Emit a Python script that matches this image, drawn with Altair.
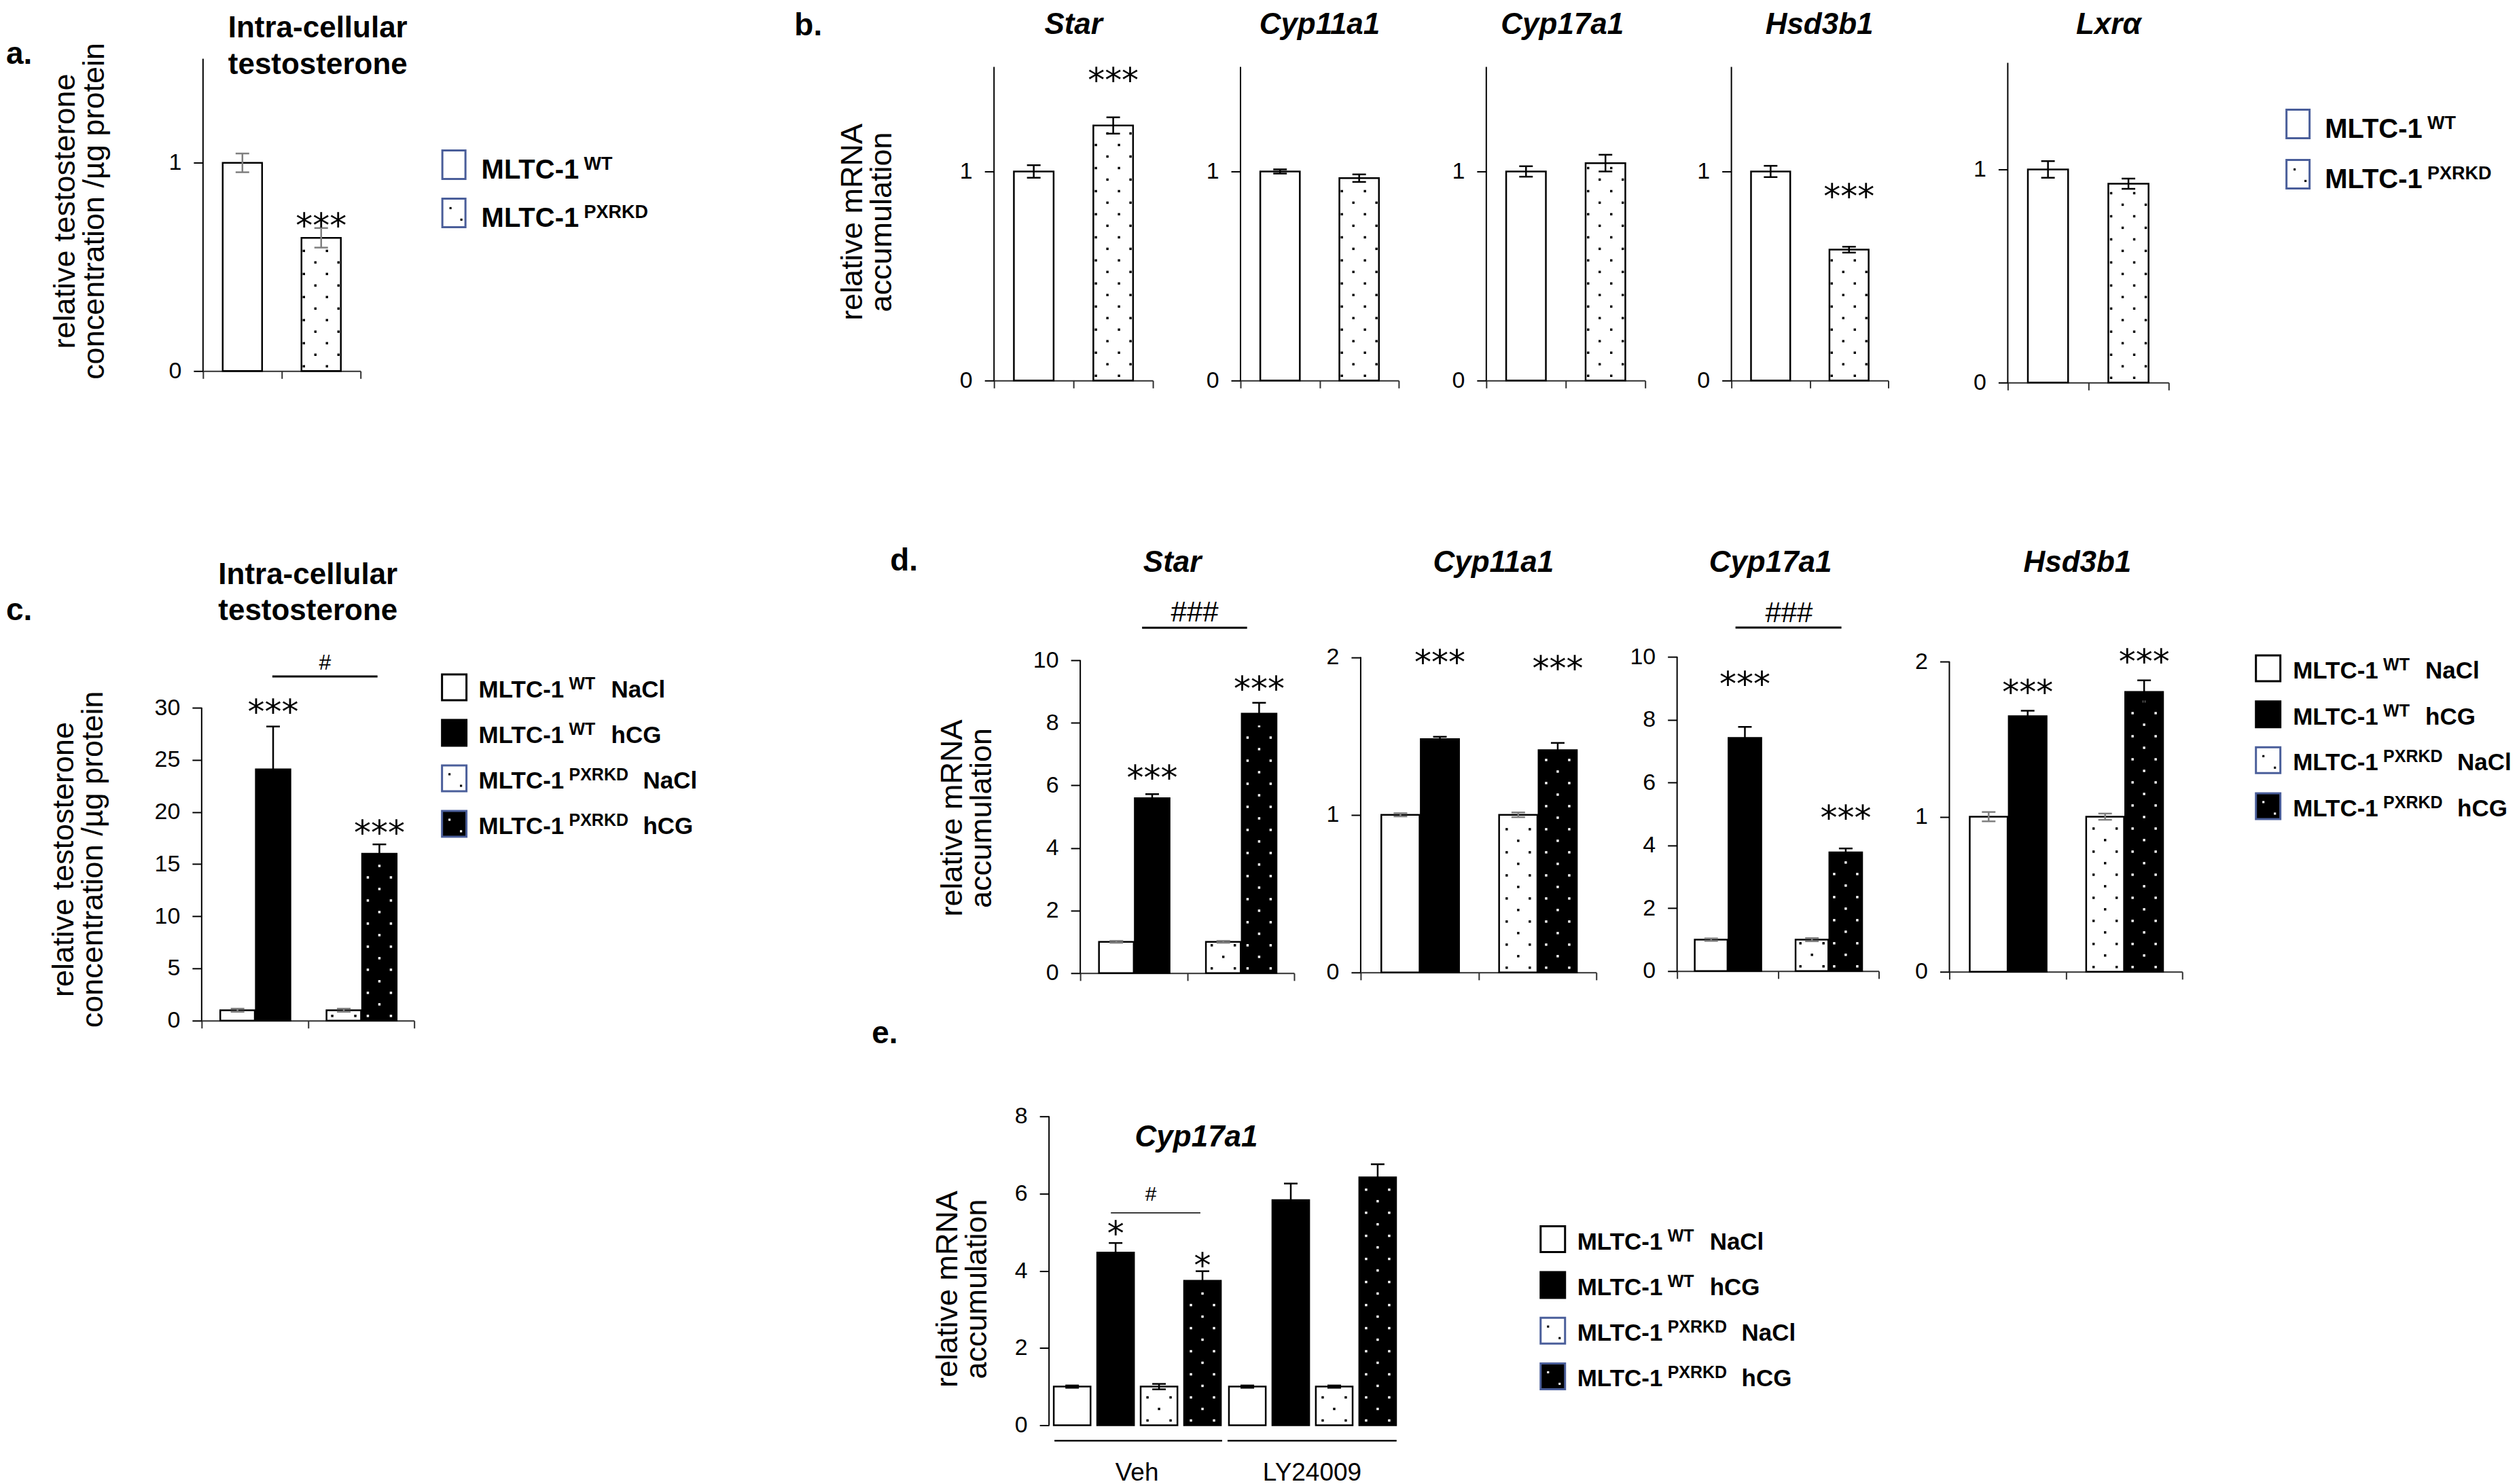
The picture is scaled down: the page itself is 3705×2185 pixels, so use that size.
import altair as alt
import pandas as pd

FONT = "Liberation Sans"
SYM_FONT = "DejaVu Sans"
BLUE = "#4a5e9a"
GRAY = "#7f7f7f"
AXC = "#303030"

# ======================= data =======================
# a. intra-cellular testosterone, WT vs PXR knock-down
a_mean = [1.00, 0.64]
a_err = [0.045, 0.047]
a_star_y = 0.734

# b. relative mRNA, WT vs PXR knock-down
b_genes = ["Star", "Cyp11a1", "Cyp17a1", "Hsd3b1", "Lxrα"]
b_wt_mean = [1.00, 1.00, 1.00, 1.00, 1.00]
b_wt_err = [0.030, 0.010, 0.025, 0.027, 0.039]
b_kd_mean = [1.22, 0.968, 1.04, 0.626, 0.933]
b_kd_err = [0.039, 0.018, 0.040, 0.014, 0.024]
b_stars = ["***", "", "", "***", ""]
b_stars_y = [1.474, 0.0, 0.0, 0.916, 0.0]

# c. intra-cellular testosterone, NaCl / hCG
c_mean = [1.0, 24.1, 1.0, 16.0]
c_err = [0.15, 4.1, 0.15, 0.9]
c_stars_y = [30.3, 18.74]          # over WT hCG, PXRKD hCG
c_hash = [0.665, 1.655, 33.0, 1.16, 34.42]   # line x0, x1, y, label x, label y

# d. relative mRNA, NaCl / hCG
d_genes = ["Star", "Cyp11a1", "Cyp17a1", "Hsd3b1"]
d_star_mean = [1.0, 5.59, 1.0, 8.29]
d_star_err = [0.03, 0.13, 0.03, 0.35]
d_cyp11_mean = [1.0, 1.48, 1.0, 1.41]
d_cyp11_err = [0.01, 0.015, 0.015, 0.046]
d_cyp17_mean = [1.0, 7.42, 1.0, 3.78]
d_cyp17_err = [0.04, 0.35, 0.05, 0.12]
d_hsd_mean = [1.0, 1.648, 1.0, 1.804]
d_hsd_err = [0.03, 0.035, 0.02, 0.075]
d_stars_y = [[6.49, 9.33], [2.015, 1.976], [9.37, 5.12], [1.851, 2.048]]
d_star_hash = [0.578, 1.56, 11.04, 1.07, 11.56]
d_cyp17_hash = [0.579, 1.63, 10.93, 1.11, 11.43]

# e. Cyp17a1, vehicle vs LY24009
e_treat = ["Veh", "LY24009"]
e_mean = [1.0, 4.47, 1.0, 3.74, 1.0, 5.83, 1.0, 6.42]
e_err = [0.03, 0.25, 0.07, 0.25, 0.03, 0.43, 0.03, 0.34]
e_stars_y = [5.17, 4.33]
e_hash = [0.353, 0.864, 5.50, 0.581, 6.0]

# legend texts
leg2_main = ["MLTC-1", "MLTC-1"]
leg2_sup = ["WT", "PXRKD"]
leg4_main = ["MLTC-1", "MLTC-1", "MLTC-1", "MLTC-1"]
leg4_sup = ["WT", "WT", "PXRKD", "PXRKD"]
leg4_suf = ["NaCl", "hCG", "NaCl", "hCG"]

YT_TESTO = ["relative testosterone", "concentration /µg protein"]
YT_MRNA = ["relative mRNA", "accumulation"]

# ======================= layout / style =======================
T1, T2, T3 = 86, 870, 1644
X2 = [0.25, 1.25]
BW2 = 0.5
X4 = [0.175, 0.51, 1.175, 1.51]
BW4 = 0.325
X8 = [0.027, 0.275, 0.523, 0.771, 1.027, 1.275, 1.523, 1.771]
BW8 = 0.21

FILL4 = ["white", "black", "white", "black"]
ECOL4 = [GRAY, "black", GRAY, "black"]
DOT4 = [False, False, True, True]
DCOL4 = ["black", "black", "black", "white"]


def dots_for(x0, x1, top, ppx, ppy, col, step=17.0):
    wpx = (x1 - x0) * ppx
    hpx = top * ppy
    ncol = int((wpx - 6) // step) + 1
    margin = (wpx - step * (ncol - 1)) / 2
    out = []
    r = 0
    while True:
        ypx = 7 + r * step
        if ypx > hpx - 5:
            break
        for k in range(ncol):
            if (k + r) % 2 == 0:
                out.append({"dx": x0 + (margin + k * step) / ppx, "dy": ypx / ppy, "dcol": col})
        r += 1
    return out


def bar_panel(means, errs, fills, ecols, dotted, dotcols, x0s, bw, width, bottom, axis_top,
              axis_max, row_top, yticks, nslots=2, stars=(), star_size=50, brackets=(),
              ytitle=None, ytitle_x=0, ytitle_y=0, title=None, xlabels=None, group_lines=()):
    height = bottom - row_top
    ppy = (bottom - axis_top) / axis_max
    ytop = height / ppy
    ppx = width / nslots
    xs = alt.Scale(domain=[0, nslots], nice=False, zero=False)
    ys = alt.Scale(domain=[0, ytop], nice=False, zero=False)

    df = pd.DataFrame({"x0": x0s, "x1": [v + bw for v in x0s], "mean": means, "err": errs,
                       "fill": fills, "ecol": ecols})
    df["xc"] = (df["x0"] + df["x1"]) / 2
    df["lo"] = df["mean"] - df["err"]
    df["hi"] = df["mean"] + df["err"]

    if xlabels is None:
        xaxis = alt.Axis(values=list(range(nslots + 1)), labels=False, ticks=True, tickSize=11,
                         tickWidth=2, tickColor=AXC, domain=True, domainColor=AXC, domainWidth=2,
                         grid=False, title=None)
    else:
        centers = [i + 0.5 for i in range(nslots)]
        expr = f"datum.value < 1 ? '{xlabels[0]}' : '{xlabels[1]}'"
        xaxis = alt.Axis(values=centers, labelExpr=expr, domain=False, ticks=False, tickSize=0,
                         labelFont=FONT, labelFontSize=37, labelColor="black", labelPadding=52,
                         labelBaseline="top", grid=False, title=None)

    ykw = dict(values=yticks, format="d", domain=False, ticks=True, tickSize=14, tickWidth=2,
               tickColor="black", labelFont=FONT, labelFontSize=34, labelColor="black",
               labelPadding=18, grid=False)
    if ytitle:
        ykw.update(title=ytitle, titleFont=FONT, titleFontSize=45, titleFontWeight="normal",
                   titleColor="black", titleAngle=270, titleAlign="center", titleBaseline="top",
                   titleLineHeight=43, titleX=ytitle_x, titleY=ytitle_y)
    else:
        ykw["title"] = None
    yaxis = alt.Axis(**ykw)

    # secondary layers share the scales; the axes come from the bar layer
    X = lambda f: alt.X(f, scale=xs)
    Y = lambda f: alt.Y(f, scale=ys)

    bars = alt.Chart(df).mark_rect(stroke="black", strokeWidth=2.5).encode(
        x=alt.X("x0:Q", scale=xs, axis=xaxis), x2="x1:Q",
        y=alt.Y("mean:Q", scale=ys, axis=yaxis), y2=alt.datum(0),
        fill=alt.Fill("fill:N", scale=None))
    layers = []

    dots = []
    for i in range(len(means)):
        if dotted[i]:
            dots += dots_for(x0s[i], x0s[i] + bw, means[i], ppx, ppy, dotcols[i])
    if dots:
        layers.append(alt.Chart(pd.DataFrame(dots)).mark_square(size=12, opacity=1).encode(
            x=X("dx:Q"), y=Y("dy:Q"), color=alt.Color("dcol:N", scale=None)))

    eb = alt.Chart(df)
    layers.append(eb.mark_rule(strokeWidth=2.5).encode(
        x=X("xc:Q"), y=Y("lo:Q"), y2="hi:Q", color=alt.Color("ecol:N", scale=None)))
    for f in ["hi", "lo"]:
        layers.append(eb.mark_tick(orient="horizontal", size=20, thickness=2.5, opacity=1).encode(
            x=X("xc:Q"), y=Y(f + ":Q"), color=alt.Color("ecol:N", scale=None)))

    if stars:
        sdf = pd.DataFrame([{"sx": float(df["xc"][i]), "sy": y, "st": t} for (t, i, y) in stars])
        layers.append(alt.Chart(sdf).mark_text(font=SYM_FONT, fontSize=star_size, baseline="middle",
                                               dy=13, color="black").encode(
            x=X("sx:Q"), y=Y("sy:Q"), text="st:N"))

    for (bx0, bx1, by, tx, ty, txt, fs, lw) in brackets:
        bdf = pd.DataFrame({"bx0": [bx0], "bx1": [bx1], "by": [by], "tx": [tx], "ty": [ty], "tt": [txt]})
        layers.append(alt.Chart(bdf).mark_rule(strokeWidth=lw, color="black").encode(
            x=X("bx0:Q"), x2="bx1:Q", y=Y("by:Q")))
        layers.append(alt.Chart(bdf).mark_text(font=FONT, fontSize=fs, baseline="middle", dy=2,
                                               color="black").encode(
            x=X("tx:Q"), y=Y("ty:Q"), text="tt:N"))

    for (g0, g1, gy) in group_lines:
        gdf = pd.DataFrame({"g0": [g0], "g1": [g1], "gy": [gy]})
        layers.append(alt.Chart(gdf).mark_rule(strokeWidth=2.5, color="black").encode(
            x=X("g0:Q"), x2="g1:Q", y=Y("gy:Q")))

    adf = pd.DataFrame({"ax": [0.0], "ay0": [0.0], "ay1": [float(axis_max)]})
    layers.append(alt.Chart(adf).mark_rule(strokeWidth=2, color="black").encode(
        x=X("ax:Q"), y=Y("ay0:Q"), y2="ay1:Q"))

    ch = alt.layer(bars, *layers).properties(width=width, height=height)
    if title is not None:
        ch = ch.properties(title=title)
    return ch


def spacer(w, h=10, label=None, offset=0):
    ch = alt.Chart(pd.DataFrame({"s": [0.0]})).mark_point(opacity=0, size=1).encode(
        x=alt.X("s:Q", axis=None, scale=alt.Scale(domain=[0, 1])),
        y=alt.Y("s:Q", axis=None, scale=alt.Scale(domain=[0, 1])))
    ch = ch.properties(width=w, height=h)
    if label:
        ch = ch.properties(title=alt.Title(label, font=FONT, fontSize=46, fontWeight="bold",
                                           anchor="start", frame="group", baseline="alphabetic",
                                           offset=offset, color="black"))
    return ch


def legend_chart(mains, sups, sufs, bfills, bstrokes, dots, dcols, width, height, box_x, box_w,
                 box_h, box_yoff, text_x, sup_dx, suf_dx, y0, y1, fs, fs_sup, sup_dy, dot_offs):
    n = len(mains)
    df = pd.DataFrame({"idx": list(range(n)), "main": mains, "sup": sups, "suf": sufs,
                       "bfill": bfills, "bstroke": bstrokes, "dots": dots, "dcol": dcols})
    Y = alt.Y("idx:Q", axis=None, scale=alt.Scale(domain=[0, n - 1], range=[y0, y1]))
    m = float(max(box_w, box_h))
    hw, hh = box_w / m, box_h / m
    path = f"M{-hw:.3f},{-hh:.3f}H{hw:.3f}V{hh:.3f}H{-hw:.3f}Z"
    base = alt.Chart(df)
    layers = [base.mark_point(shape=path, size=m * m, filled=True, opacity=1, strokeWidth=3,
                              yOffset=box_yoff).encode(
        x=alt.value(box_x), y=Y, fill=alt.Fill("bfill:N", scale=None),
        stroke=alt.Stroke("bstroke:N", scale=None))]
    for (ox, oy) in dot_offs:
        layers.append(base.transform_filter("datum.dots").mark_square(
            size=10, opacity=1, xOffset=ox, yOffset=box_yoff + oy).encode(
            x=alt.value(box_x), y=Y, color=alt.Color("dcol:N", scale=None)))
    txt = dict(font=FONT, fontWeight="bold", align="left", baseline="alphabetic", color="black")
    layers.append(base.mark_text(fontSize=fs, **txt).encode(x=alt.value(text_x), y=Y, text="main:N"))
    layers.append(base.mark_text(fontSize=fs_sup, dy=sup_dy, **txt).encode(
        x=alt.value(text_x + sup_dx), y=Y, text="sup:N"))
    if suf_dx:
        for key, dx in suf_dx.items():
            layers.append(base.transform_filter(alt.datum.sup == key).mark_text(fontSize=fs, **txt).encode(
                x=alt.value(text_x + dx), y=Y, text="suf:N"))
    return alt.layer(*layers).properties(width=width, height=height)


def gene_title(txt, offset, dx):
    return alt.Title(txt, font=FONT, fontSize=44, fontWeight="bold", fontStyle="italic",
                     anchor="middle", frame="group", baseline="alphabetic", offset=offset, dx=dx,
                     color="black")


def intra_title(offset, dx, lh):
    return alt.Title(["Intra-cellular", "testosterone"], font=FONT, fontSize=44, fontWeight="bold",
                     anchor="middle", frame="group", baseline="top", lineHeight=lh, offset=offset,
                     dx=dx, color="black")


# ======================= row 1 : a + b =======================
pa = bar_panel(a_mean, a_err, ["white", "white"], [GRAY, GRAY], [False, True], ["black", "black"],
               X2, BW2, width=232, bottom=546, axis_top=86, axis_max=1.5, row_top=T1, yticks=[0, 1],
               stars=[("***", 1, a_star_y)], ytitle=YT_TESTO, ytitle_x=-225, ytitle_y=224,
               title=intra_title(-56, 53, 54))

leg_a = legend_chart(leg2_main, leg2_sup, ["", ""], ["white", "white"], [BLUE, BLUE],
                     [False, True], ["black", "black"], width=639, height=300, box_x=137.5,
                     box_w=34, box_h=42, box_yoff=-21, text_x=178, sup_dx=151, suf_dx=None,
                     y0=177, y1=248, fs=40, fs_sup=27, sup_dy=-13, dot_offs=[(-5, -7), (11, 10)])

b_geom = [(234, 560, 98), (233, 560, 98), (234, 560, 98), (231, 560, 98), (237, 563, 92)]
b_dx = [0, 0, -5, 14, 30]
b_panels = []
for i, g in enumerate(b_genes):
    w, bot, atop = b_geom[i]
    st = [(b_stars[i], 1, b_stars_y[i])] if b_stars[i] else []
    b_panels.append(bar_panel(
        [b_wt_mean[i], b_kd_mean[i]], [b_wt_err[i], b_kd_err[i]], ["white", "white"],
        ["black", "black"], [False, True], ["black", "black"], X2, BW2, width=w, bottom=bot,
        axis_top=atop, axis_max=1.5, row_top=T1, yticks=[0, 1], stars=st,
        ytitle=YT_MRNA if i == 0 else None, ytitle_x=-231, ytitle_y=240,
        title=gene_title(g, -7, b_dx[i])))

leg_b = legend_chart(leg2_main, leg2_sup, ["", ""], ["white", "white"], [BLUE, BLUE],
                     [False, True], ["black", "black"], width=407, height=300, box_x=190.5,
                     box_w=34, box_h=42, box_yoff=-21, text_x=230, sup_dx=151, suf_dx=None,
                     y0=117, y1=191, fs=40, fs_sup=27, sup_dy=-13, dot_offs=[(-5, -7), (11, 10)])

row1 = alt.hconcat(
    spacer(290, label="a.", offset=-53), pa, leg_a, spacer(294, label="b.", offset=-11),
    b_panels[0], spacer(129), b_panels[1], spacer(129), b_panels[2], spacer(127), b_panels[3],
    spacer(176), b_panels[4], leg_b, spacing=0, bounds="flush")

# ======================= row 2 : c + d =======================
pc = bar_panel(c_mean, c_err, FILL4, ECOL4, DOT4, DCOL4, X4, BW4, width=313, bottom=1503,
               axis_top=1042, axis_max=30, row_top=T2, yticks=[0, 5, 10, 15, 20, 25, 30],
               stars=[("***", 1, c_stars_y[0]), ("***", 3, c_stars_y[1])],
               brackets=[(c_hash[0], c_hash[1], c_hash[2], c_hash[3], c_hash[4], "#", 32, 3)],
               ytitle=YT_TESTO, ytitle_x=-225, ytitle_y=395, title=intra_title(-52, 0, 53))

leg_cde = dict(mains=leg4_main, sups=leg4_sup, sufs=leg4_suf, bfills=FILL4,
               bstrokes=["black", "black", BLUE, BLUE], dots=DOT4, dcols=DCOL4, box_w=36, box_h=38,
               box_yoff=-15, sup_dx=133, suf_dx={"WT": 195, "PXRKD": 242}, fs=35, fs_sup=25,
               sup_dy=-12, dot_offs=[(-7, -6), (10, 11)])
leg_c = legend_chart(width=701, height=420, box_x=59, text_x=95, y0=157, y1=358, **leg_cde)

d_means = [d_star_mean, d_cyp11_mean, d_cyp17_mean, d_hsd_mean]
d_errs = [d_star_err, d_cyp11_err, d_cyp17_err, d_hsd_err]
d_geom = [(315, 1433, 972, 10, [0, 2, 4, 6, 8, 10]), (347, 1432, 967.5, 2, [0, 1, 2]),
          (297, 1430, 967, 10, [0, 2, 4, 6, 8, 10]), (343, 1431, 974, 2, [0, 1, 2])]
d_dx = [-22, 22, -11, 17]
d_brackets = [[(d_star_hash[0], d_star_hash[1], d_star_hash[2], d_star_hash[3], d_star_hash[4], "###", 42, 3)],
              [],
              [(d_cyp17_hash[0], d_cyp17_hash[1], d_cyp17_hash[2], d_cyp17_hash[3], d_cyp17_hash[4], "###", 42, 3)],
              []]
d_panels = []
for i, g in enumerate(d_genes):
    w, bot, atop, amax, ticks = d_geom[i]
    d_panels.append(bar_panel(
        d_means[i], d_errs[i], FILL4, ECOL4, DOT4, DCOL4, X4, BW4, width=w, bottom=bot,
        axis_top=atop, axis_max=amax, row_top=T2, yticks=ticks,
        stars=[("***", 1, d_stars_y[i][0]), ("***", 3, d_stars_y[i][1])], brackets=d_brackets[i],
        ytitle=YT_MRNA if i == 0 else None, ytitle_x=-211, ytitle_y=334,
        title=gene_title(g, -16, d_dx[i])))

leg_d = legend_chart(width=437, height=420, box_x=126.5, text_x=163, y0=129, y1=332, **leg_cde)

row2 = alt.hconcat(
    spacer(288, label="c.", offset=-89), pc, leg_c, spacer(280, label="d.", offset=-16),
    d_panels[0], spacer(98), d_panels[1], spacer(119), d_panels[2], spacer(104), d_panels[3],
    leg_d, spacing=0, bounds="flush")

# ======================= row 3 : e =======================
pe = bar_panel(e_mean, e_err, FILL4 * 2, ["black"] * 8, DOT4 * 2, DCOL4 * 2, X8, BW8, width=516,
               bottom=2099, axis_top=1644, axis_max=8, row_top=T3, yticks=[0, 2, 4, 6, 8],
               stars=[("*", 1, e_stars_y[0]), ("*", 3, e_stars_y[1])],
               brackets=[(e_hash[0], e_hash[1], e_hash[2], e_hash[3], e_hash[4], "#", 30, 1.5)],
               ytitle=YT_MRNA, ytitle_x=-172, ytitle_y=254,
               title=gene_title("Cyp17a1", -105, -41), xlabels=e_treat,
               group_lines=[(0.031, 0.988, -0.40), (1.019, 1.984, -0.40)])

leg_e = legend_chart(width=640, height=420, box_x=226, text_x=262, y0=196, y1=398, **leg_cde)

row3 = alt.hconcat(spacer(1275), spacer(261, label="e.", offset=62), pe, leg_e,
                   spacing=0, bounds="flush")

chart = alt.vconcat(row1, spacer(1, T2 - T1), row2, spacer(1, T3 - T2), row3,
                    spacing=0, bounds="flush").properties(
    padding={"top": 6, "left": 0, "right": 0, "bottom": 0}).configure_view(stroke=None)

chart.save("out.html", embed_options={"renderer": "svg", "actions": False})
